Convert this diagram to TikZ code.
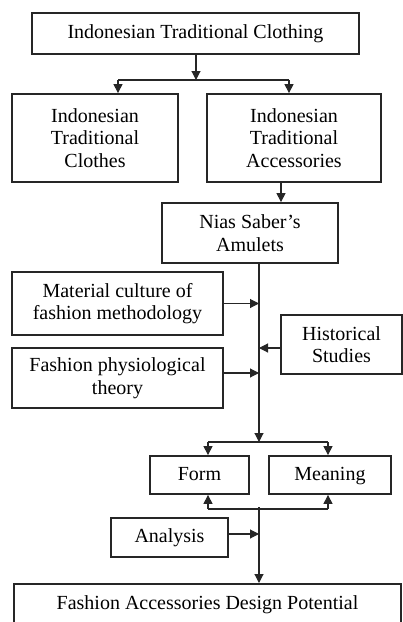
\documentclass[tikz,border=0pt]{standalone}
\usepackage{fontspec}
\setmainfont{Liberation Serif}
\usetikzlibrary{arrows.meta}

\begin{document}
\begin{tikzpicture}[x=1pt,y=-1pt,
  box/.style={draw=black!85,line width=1.8pt,align=center,inner sep=0pt,
    font=\fontsize{20}{22.5}\selectfont},
  link/.style={draw=black!85,line width=1.1pt},
  arr/.style={link,-{Triangle[length=9pt,width=9pt]}}]
\useasboundingbox (0,0) rectangle (403,622);
\clip (0,0) rectangle (403,622);
\node[box,minimum width=327pt,minimum height=41pt] (top) at (195.5,33.5) {Indonesian Traditional Clothing};
\node[box,minimum width=166pt,minimum height=88pt] (clothes) at (95,138) {Indonesian\\Traditional\\Clothes};
\node[box,minimum width=174pt,minimum height=88pt] (access) at (294,138) {Indonesian\\Traditional\\Accessories};
\node[box,minimum width=176pt,minimum height=60pt] (nias) at (250,233) {Nias Saber’s\\Amulets};
\node[box,minimum width=211pt,minimum height=63pt] (material) at (117.5,303.5) {Material culture of\\fashion methodology};
\node[box,minimum width=211pt,minimum height=60pt] (fashion) at (117.5,378) {Fashion physiological\\theory};
\node[box,minimum width=121pt,minimum height=59pt] (history) at (341.5,344.5) {Historical\\Studies};
\node[box,minimum width=99pt,minimum height=38pt,text height=14pt,text depth=4pt] (form) at (199.5,475) {Form};
\node[box,minimum width=122pt,minimum height=38pt,text height=14pt,text depth=4pt] (meaning) at (330,475) {Meaning};
\node[box,minimum width=117pt,minimum height=39pt] (analysis) at (169.5,537.5) {Analysis};
\node[box,minimum width=387pt,minimum height=42pt,anchor=north] (final) at (207.5,583) {Fashion Accessories Design Potential};
% junctions
\coordinate (split1) at (196,80);
\coordinate (b1l) at (118,80);
\coordinate (b1r) at (289,80);
\coordinate (c2) at (281,0);
\coordinate (spine) at (259,0);
\coordinate (split2) at (259,442);
\coordinate (b2l) at (208,442);
\coordinate (b2r) at (328,442);
\coordinate (b3l) at (208,509);
\coordinate (b3r) at (328,509);
% top split
\draw[arr] (top.south -| split1) -- (split1);
\draw[link] (b1l) -- (b1r);
\draw[arr] (b1l) -- (b1l |- clothes.north);
\draw[arr] (b1r) -- (b1r |- access.north);
\draw[arr] (access.south -| c2) -- (nias.north -| c2);
% spine
\draw[arr] (nias.south -| spine) -- (split2);
\draw[arr] (material.east) -- (material.east -| spine);
\draw[arr] ([yshift=5pt]fashion.east) -- ([yshift=5pt]fashion.east -| spine);
\draw[arr] ([yshift=-3.5pt]history.west) -- ([yshift=-3.5pt]history.west -| spine);
% form and meaning
\draw[link] (b2l) -- (b2r);
\draw[arr] (b2l) -- (b2l |- form.north);
\draw[arr] (b2r) -- (b2r |- meaning.north);
\draw[link] (b3l) -- (b3r);
\draw[arr] (b3l) -- (b3l |- form.south);
\draw[arr] (b3r) -- (b3r |- meaning.south);
\draw[arr] ([yshift=2pt]b3l -| spine) -- (final.north -| spine);
\draw[arr] ([yshift=3.5pt]analysis.east) -- ([yshift=3.5pt]analysis.east -| spine);
\end{tikzpicture}
\end{document}
